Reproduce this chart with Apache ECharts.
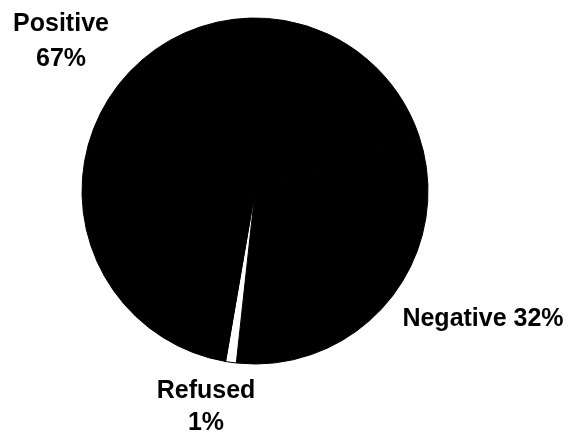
<!DOCTYPE html>
<html>
<head>
<meta charset="utf-8">
<script src="https://cdn.jsdelivr.net/npm/echarts@6/dist/echarts.min.js"></script>
<style>html,body{margin:0;padding:0;background:#fff}#main{width:571px;height:435px}</style>
</head>
<body>
<div id="main"></div>
<script>
var categories = ['Negative', 'Refused', 'Positive'];
var values = [32, 1, 67];
var sliceColors = ['#000000', '#ffffff', '#000000'];
var labelTexts = ['Negative 32%', 'Refused\n1%', 'Positive\n67%'];

// label placement (layout only)
var labelPos = [[483, 319, 30], [206, 407, 32], [61, 41.5, 35]];

var chart = echarts.init(document.getElementById('main'), null, {renderer: 'canvas'});
var data = categories.map(function (c, i) {
  return {
    name: c,
    value: values[i],
    itemStyle: {color: sliceColors[i], borderColor: '#000', borderWidth: 1},
    label: {formatter: labelTexts[i], lineHeight: labelPos[i][2]}
  };
});
chart.setOption({
  backgroundColor: '#ffffff',
  animation: false,
  series: [{
    type: 'pie',
    center: [255, 191],
    radius: 173,
    startAngle: 19,
    clockwise: true,
    avoidLabelOverlap: false,
    data: data,
    label: {
      show: true,
      position: 'outside',
      color: '#000',
      fontFamily: 'Liberation Sans, Arial, sans-serif',
      fontWeight: 'bold',
      fontSize: 25,
      align: 'center'
    },
    labelLine: {show: false},
    labelLayout: function (params) {
      var p = labelPos[params.dataIndex];
      return {x: p[0], y: p[1], align: 'center', verticalAlign: 'middle'};
    }
  }]
});
</script>
</body>
</html>
